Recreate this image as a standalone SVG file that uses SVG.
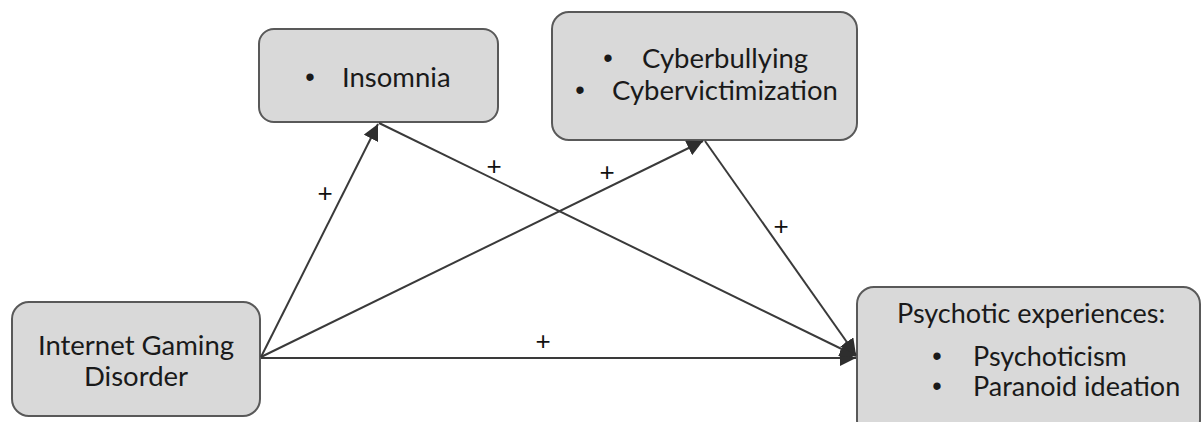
<svg xmlns="http://www.w3.org/2000/svg" width="1203" height="422" viewBox="0 0 1203 422">
<style>
.box{fill:#d9d9d9;stroke:#595959;stroke-width:2}
.t{font-family:Lato,"Open Sans","Liberation Sans",sans-serif;font-size:27.5px;fill:#1a1a1a}
.s{font-size:27px}
.b{font-family:"Liberation Sans",Arial,sans-serif;font-size:27px;fill:#1a1a1a}
.p{font-family:"Liberation Sans",Arial,sans-serif;font-size:26px;fill:#111111}
.ln{stroke:#3a3a3a;stroke-width:2;fill:none}
</style>
<defs>
<marker id="ah" markerUnits="userSpaceOnUse" markerWidth="18" markerHeight="16" refX="16" refY="8" orient="auto">
<path d="M0,0 L16,8 L0,16 Z" fill="#2e2e2e"/>
</marker>
</defs>
<rect width="1203" height="422" fill="#ffffff"/>
<g id="insomnia">
<rect class="box" x="259" y="29" width="239" height="93" rx="15"/>
<text class="b" x="310" y="86" text-anchor="middle">•</text>
<text class="t" x="342" y="87">Insomnia</text>
</g>
<g id="cyber">
<rect class="box" x="552" y="12" width="305" height="128" rx="17"/>
<text class="b" x="608" y="67" text-anchor="middle">•</text>
<text class="t" x="642" y="68">Cyberbullying</text>
<text class="b" x="580" y="99" text-anchor="middle">•</text>
<text class="t" x="612" y="100">Cybervictimization</text>
</g>
<g id="igd">
<rect class="box" x="12" y="302" width="248" height="114" rx="17"/>
<text class="t" x="136" y="355" text-anchor="middle">Internet Gaming</text>
<text class="t" x="136" y="386" text-anchor="middle">Disorder</text>
</g>
<g id="psychotic">
<rect class="box" x="857" y="287" width="343" height="150" rx="17"/>
<text class="t s" x="897" y="323">Psychotic experiences:</text>
<text class="b" x="937" y="365" text-anchor="middle">•</text>
<text class="t s" x="973" y="366">Psychoticism</text>
<text class="b" x="937" y="395" text-anchor="middle">•</text>
<text class="t s" x="973" y="396">Paranoid ideation</text>
</g>
<g id="connectors">
<line class="ln" x1="261" y1="357" x2="378" y2="124" marker-end="url(#ah)"/>
<line class="ln" x1="261" y1="357" x2="703" y2="141" marker-end="url(#ah)"/>
<line class="ln" x1="261" y1="358" x2="856" y2="358" marker-end="url(#ah)"/>
<line class="ln" x1="379" y1="123" x2="856" y2="356" marker-end="url(#ah)"/>
<line class="ln" x1="705" y1="141" x2="856" y2="355" marker-end="url(#ah)"/>
</g>
<g id="labels">
<text class="p" x="325" y="202" text-anchor="middle">+</text>
<text class="p" x="494" y="175" text-anchor="middle">+</text>
<text class="p" x="607" y="181" text-anchor="middle">+</text>
<text class="p" x="543" y="350" text-anchor="middle">+</text>
<text class="p" x="781" y="235" text-anchor="middle">+</text>
</g>
</svg>
